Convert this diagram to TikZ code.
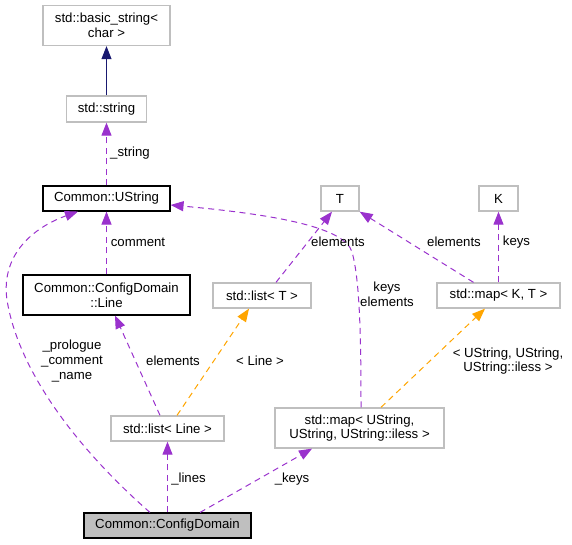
\documentclass[tikz,border=0pt]{standalone}
\usepackage{fontspec}
\setmainfont{Liberation Sans}
\usetikzlibrary{arrows.meta}
\definecolor{dxpurple}{HTML}{9A32CD}
\definecolor{dxorange}{HTML}{FFA500}
\definecolor{dxnavy}{HTML}{191970}
\definecolor{dxgray}{HTML}{BFBFBF}
\begin{document}
\begin{tikzpicture}[x=1pt,y=-1pt,
  every node/.style={font=\fontsize{13.2}{14.8}\selectfont, align=center, inner sep=0pt},
  cls/.style={draw=dxgray, line width=1.3pt, fill=white},
  doc/.style={draw=black, line width=1.1pt, fill=white},
  usage/.style={draw=dxpurple, line width=1pt, dash pattern=on 6pt off 4.5pt, -{Triangle[length=13pt,width=10pt]}, fill=none},
  tmpl/.style={draw=dxorange, line width=1pt, dash pattern=on 6pt off 4.5pt, -{Triangle[length=13pt,width=10pt]}},
  inh/.style={draw=dxnavy, line width=1pt, -{Triangle[length=13pt,width=10pt]}},
  lbl/.style={fill=none}]
\useasboundingbox (0,0) rectangle (572,544);
\node[cls, minimum width=127pt, minimum height=40pt] (bs) at (106.5,25.5) {std::basic\_string<\\char >};
\node[cls, minimum width=80pt, minimum height=26pt] (str) at (106.5,109) {std::string};
\node[doc, minimum width=127pt, minimum height=25pt] (us) at (106.5,198.5) {Common::UString};
\node[doc, minimum width=167pt, minimum height=40pt] (line) at (106.5,295) {Common::ConfigDomain\\::Line};
\node[cls, minimum width=98pt, minimum height=25pt] (lt) at (262,295.5) {std::list< T >};
\node[cls, minimum width=38pt, minimum height=25pt] (T) at (340,198.5) {T};
\node[cls, minimum width=39pt, minimum height=25pt] (K) at (498.5,198.5) {K};
\node[cls, minimum width=123pt, minimum height=25pt] (mkt) at (498.5,295.5) {std::map< K, T >};
\node[cls, minimum width=113pt, minimum height=25pt] (ll) at (167.5,428.5) {std::list< Line >};
\node[cls, minimum width=169pt, minimum height=40pt] (mu) at (359.5,428) {std::map< UString,\\ UString, UString::iless >};
\node[doc, fill=dxgray, minimum width=167pt, minimum height=25pt] (cd) at (167.5,525.5) {Common::ConfigDomain};

\draw[inh] (str.north) -- (bs.south);
\draw[usage] (us.north) -- (str.south);
\node[lbl] (l1) at (130,153) {\_string};
\draw[usage] (line.north) -- (us.south);
\node[lbl] (l2) at (138,242) {comment};
\draw[usage] ([xshift=-17.5pt]cd.north) .. controls (90,460) and (20,380) .. (7,300)
  .. controls (0,250) and (40,225) .. ([xshift=-28.5pt]us.south);
\node[lbl] (l3) at (72,361) {\_prologue\\\_comment\\\_name};
\draw[usage] ([xshift=-7.5pt]ll.north) -- ([xshift=8.5pt]line.south);
\node[lbl] (l4) at (173,361) {elements};
\draw[tmpl] ([xshift=9.5pt]ll.north) -- ([xshift=-13pt]lt.south);
\node[lbl] (l5) at (260,361) {< Line >};
\draw[usage] (cd.north) -- (ll.south);
\node[lbl] (l6) at (188.5,479) {\_lines};
\draw[usage] ([xshift=32.5pt]cd.north) -- ([xshift=-47.5pt]mu.south);
\node[lbl] (l7) at (292,479) {\_keys};
\draw[usage] ([xshift=1.5pt]mu.north) .. controls (361,340) and (360,280) .. (352,252)
  .. controls (345,228) and (280,215) .. ([yshift=-6.5pt]us.east);
\node[lbl] (l8) at (387,294) {keys\\elements};
\draw[usage] ([xshift=14pt]lt.north) -- ([xshift=-8pt]T.south);
\node[lbl] (l9) at (338,242) {elements};
\draw[usage] ([xshift=-25pt]mkt.north) -- (T.south east);
\node[lbl] (l10) at (454,242) {elements};
\draw[usage] (mkt.north) -- (K.south);
\node[lbl] (l11) at (516.5,242) {keys};
\draw[tmpl] ([xshift=21.5pt]mu.north) -- ([xshift=-13.5pt]mkt.south);
\node[lbl] (l12) at (508,361) {< UString, UString,\\UString::iless >};
\end{tikzpicture}
\end{document}
